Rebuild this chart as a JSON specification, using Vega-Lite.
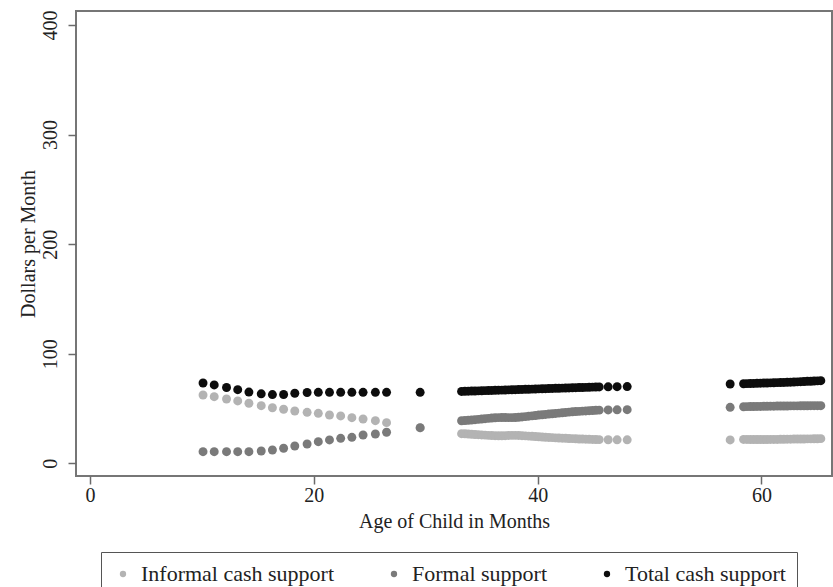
{
  "$schema": "https://vega.github.io/schema/vega-lite/v6.json",
  "width": 756,
  "height": 465,
  "autosize": "none",
  "padding": {"left": 76, "top": 11, "right": 1, "bottom": 111},
  "background": "white",
  "config": {
    "view": {"stroke": "#767676", "strokeWidth": 2},
    "font": "Liberation Serif",
    "axis": {
      "domain": false,
      "grid": false,
      "tickColor": "#6a6a6a",
      "tickWidth": 1.5,
      "tickSize": 8,
      "labelFont": "Liberation Serif",
      "labelFontSize": 20,
      "labelColor": "#222222",
      "titleFont": "Liberation Serif",
      "titleFontSize": 20,
      "titleFontWeight": "normal",
      "titleColor": "#222222"
    }
  },
  "data": {
    "values": [
      {"age": 10.1, "i": 62.3, "f": 10.6, "t": 73.3},
      {"age": 11.1, "i": 60.8, "f": 10.6, "t": 71.5},
      {"age": 12.2, "i": 58.7, "f": 10.6, "t": 69.2},
      {"age": 13.2, "i": 56.9, "f": 10.6, "t": 67.2},
      {"age": 14.2, "i": 54.8, "f": 10.6, "t": 65.0},
      {"age": 15.3, "i": 52.6, "f": 11.2, "t": 63.4},
      {"age": 16.3, "i": 50.7, "f": 12.1, "t": 62.7},
      {"age": 17.3, "i": 49.3, "f": 13.7, "t": 62.8},
      {"age": 18.3, "i": 47.7, "f": 15.8, "t": 63.9},
      {"age": 19.4, "i": 46.5, "f": 17.6, "t": 64.6},
      {"age": 20.4, "i": 45.6, "f": 19.7, "t": 64.8},
      {"age": 21.4, "i": 44.1, "f": 21.3, "t": 64.8},
      {"age": 22.4, "i": 43.2, "f": 22.8, "t": 64.8},
      {"age": 23.4, "i": 41.6, "f": 23.7, "t": 64.8},
      {"age": 24.4, "i": 40.4, "f": 25.8, "t": 64.8},
      {"age": 25.5, "i": 38.9, "f": 26.7, "t": 64.8},
      {"age": 26.5, "i": 37.1, "f": 28.3, "t": 64.8},
      {"age": 29.5, "i": 32.3, "f": 32.5, "t": 64.8},
      {"age": 33.2, "i": 27.0, "f": 38.8, "t": 65.6},
      {"age": 33.5, "i": 26.9, "f": 39.0, "t": 65.7},
      {"age": 33.8, "i": 26.7, "f": 39.2, "t": 65.8},
      {"age": 34.1, "i": 26.5, "f": 39.5, "t": 65.9},
      {"age": 34.4, "i": 26.3, "f": 39.8, "t": 66.0},
      {"age": 34.7, "i": 26.1, "f": 40.1, "t": 66.1},
      {"age": 35.0, "i": 25.9, "f": 40.4, "t": 66.2},
      {"age": 35.3, "i": 25.7, "f": 40.7, "t": 66.3},
      {"age": 35.6, "i": 25.5, "f": 41.0, "t": 66.4},
      {"age": 35.9, "i": 25.3, "f": 41.3, "t": 66.5},
      {"age": 36.2, "i": 25.2, "f": 41.5, "t": 66.6},
      {"age": 36.5, "i": 25.1, "f": 41.7, "t": 66.7},
      {"age": 36.8, "i": 25.1, "f": 41.8, "t": 66.8},
      {"age": 37.1, "i": 25.2, "f": 41.8, "t": 66.9},
      {"age": 37.4, "i": 25.4, "f": 41.7, "t": 67.0},
      {"age": 37.7, "i": 25.5, "f": 41.7, "t": 67.1},
      {"age": 38.0, "i": 25.5, "f": 41.8, "t": 67.2},
      {"age": 38.3, "i": 25.4, "f": 42.0, "t": 67.3},
      {"age": 38.6, "i": 25.2, "f": 42.3, "t": 67.4},
      {"age": 38.9, "i": 25.0, "f": 42.6, "t": 67.5},
      {"age": 39.2, "i": 24.8, "f": 43.0, "t": 67.6},
      {"age": 39.5, "i": 24.6, "f": 43.3, "t": 67.7},
      {"age": 39.8, "i": 24.4, "f": 43.6, "t": 67.8},
      {"age": 40.1, "i": 24.2, "f": 44.0, "t": 67.9},
      {"age": 40.4, "i": 24.0, "f": 44.3, "t": 68.0},
      {"age": 40.7, "i": 23.8, "f": 44.6, "t": 68.1},
      {"age": 41.0, "i": 23.6, "f": 44.9, "t": 68.2},
      {"age": 41.3, "i": 23.4, "f": 45.2, "t": 68.3},
      {"age": 41.6, "i": 23.2, "f": 45.5, "t": 68.4},
      {"age": 41.9, "i": 23.0, "f": 45.8, "t": 68.5},
      {"age": 42.2, "i": 22.9, "f": 46.1, "t": 68.6},
      {"age": 42.5, "i": 22.8, "f": 46.4, "t": 68.7},
      {"age": 42.8, "i": 22.6, "f": 46.7, "t": 68.8},
      {"age": 43.1, "i": 22.5, "f": 47.0, "t": 68.9},
      {"age": 43.4, "i": 22.4, "f": 47.2, "t": 69.0},
      {"age": 43.7, "i": 22.2, "f": 47.4, "t": 69.1},
      {"age": 44.0, "i": 22.1, "f": 47.6, "t": 69.2},
      {"age": 44.3, "i": 22.0, "f": 47.8, "t": 69.3},
      {"age": 44.6, "i": 21.9, "f": 48.0, "t": 69.4},
      {"age": 44.9, "i": 21.8, "f": 48.2, "t": 69.5},
      {"age": 45.2, "i": 21.7, "f": 48.4, "t": 69.6},
      {"age": 45.5, "i": 21.6, "f": 48.5, "t": 69.7},
      {"age": 46.3, "i": 21.5, "f": 48.7, "t": 69.8},
      {"age": 47.1, "i": 21.4, "f": 48.8, "t": 69.9},
      {"age": 48.0, "i": 21.4, "f": 48.9, "t": 70.0},
      {"age": 57.2, "i": 21.3, "f": 51.1, "t": 72.4},
      {"age": 58.4, "i": 21.8, "f": 51.6, "t": 72.6},
      {"age": 58.7, "i": 21.8, "f": 51.7, "t": 72.7},
      {"age": 59.0, "i": 21.7, "f": 51.8, "t": 72.8},
      {"age": 59.3, "i": 21.7, "f": 51.8, "t": 72.9},
      {"age": 59.6, "i": 21.7, "f": 51.9, "t": 73.0},
      {"age": 59.9, "i": 21.7, "f": 51.9, "t": 73.1},
      {"age": 60.2, "i": 21.7, "f": 52.0, "t": 73.2},
      {"age": 60.5, "i": 21.7, "f": 52.0, "t": 73.3},
      {"age": 60.8, "i": 21.8, "f": 52.1, "t": 73.4},
      {"age": 61.1, "i": 21.8, "f": 52.1, "t": 73.5},
      {"age": 61.4, "i": 21.8, "f": 52.2, "t": 73.6},
      {"age": 61.7, "i": 21.9, "f": 52.2, "t": 73.7},
      {"age": 62.0, "i": 21.9, "f": 52.3, "t": 73.8},
      {"age": 62.3, "i": 22.0, "f": 52.3, "t": 73.9},
      {"age": 62.6, "i": 22.0, "f": 52.4, "t": 74.0},
      {"age": 62.9, "i": 22.1, "f": 52.4, "t": 74.2},
      {"age": 63.2, "i": 22.1, "f": 52.4, "t": 74.3},
      {"age": 63.5, "i": 22.2, "f": 52.5, "t": 74.5},
      {"age": 63.8, "i": 22.2, "f": 52.5, "t": 74.6},
      {"age": 64.1, "i": 22.3, "f": 52.5, "t": 74.8},
      {"age": 64.4, "i": 22.3, "f": 52.6, "t": 74.9},
      {"age": 64.7, "i": 22.4, "f": 52.6, "t": 75.1},
      {"age": 65.0, "i": 22.4, "f": 52.6, "t": 75.2},
      {"age": 65.3, "i": 22.5, "f": 52.6, "t": 75.4}
    ]
  },
  "transform": [
    {"fold": ["i", "f", "t"], "as": ["series", "dollars"]}
  ],
  "mark": {"type": "point", "shape": "circle", "filled": true, "opacity": 1, "size": 80},
  "encoding": {
    "x": {
      "field": "age",
      "type": "quantitative",
      "scale": {"domain": [-1.25, 66.3], "nice": false, "zero": false},
      "axis": {"values": [0, 20, 40, 60], "title": "Age of Child in Months", "labelPadding": 1, "titlePadding": 6}
    },
    "y": {
      "field": "dollars",
      "type": "quantitative",
      "scale": {"domain": [-11.6, 412.8], "nice": false, "zero": false},
      "axis": {"values": [0, 100, 200, 300, 400], "title": "Dollars per Month", "labelAngle": -90, "labelAlign": "center", "labelBaseline": "bottom", "labelPadding": 8, "titlePadding": 2}
    },
    "color": {
      "field": "series",
      "type": "nominal",
      "sort": ["i", "f", "t"],
      "scale": {"domain": ["i", "f", "t"], "range": ["#b3b3b3", "#7a7a7a", "#0d0d0d"]},
      "legend": {
        "title": null,
        "orient": "none",
        "legendX": 25,
        "legendY": 541,
        "direction": "horizontal",
        "symbolType": "circle",
        "symbolSize": 40,
        "labelFont": "Liberation Serif",
        "labelFontSize": 22,
        "labelLimit": 400,
        "labelColor": "#222222",
        "labelOffset": 7,
        "columnPadding": 48,
        "padding": 11,
        "strokeColor": "#555555",
        "labelExpr": "datum.label == 'i' ? 'Informal cash support' : datum.label == 'f' ? 'Formal support' : 'Total cash support'"
      }
    }
  }
}
